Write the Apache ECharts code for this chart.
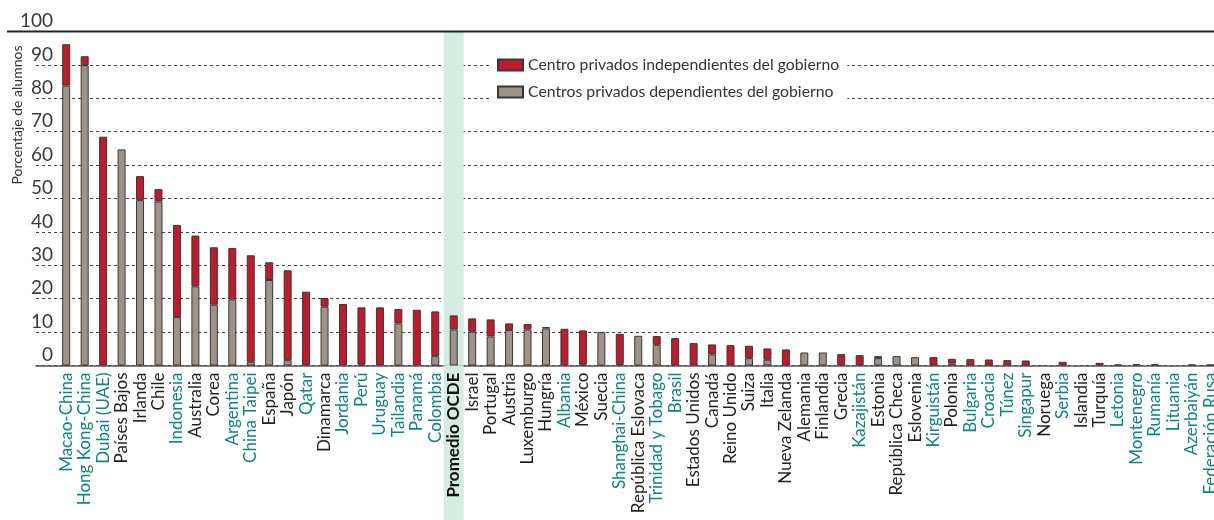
<!DOCTYPE html>
<html>
<head>
<meta charset="utf-8">
<script src="https://cdn.jsdelivr.net/npm/echarts@6/dist/echarts.min.js"></script>
<style>
  html, body { margin: 0; padding: 0; background: #fff; }
  #chart { width: 1214px; height: 520px; }
</style>
</head>
<body>
<div id="chart"></div>
<script>
// ---- DATA ----
const categories = [
  'Macao-China', 'Hong Kong-China', 'Dubai (UAE)', 'Países Bajos', 'Irlanda', 'Chile',
  'Indonesia', 'Australia', 'Corea', 'Argentina', 'China Taipei', 'España', 'Japón',
  'Qatar', 'Dinamarca', 'Jordania', 'Perú', 'Uruguay', 'Tailandia', 'Panamá', 'Colombia',
  'Promedio OCDE', 'Israel', 'Portugal', 'Austria', 'Luxemburgo', 'Hungría', 'Albania',
  'México', 'Suecia', 'Shanghai-China', 'República Eslovaca', 'Trinidad y Tobago', 'Brasil',
  'Estados Unidos', 'Canadá', 'Reino Unido', 'Suiza', 'Italia', 'Nueva Zelanda', 'Alemania',
  'Finlandia', 'Grecia', 'Kazajistán', 'Estonia', 'República Checa', 'Eslovenia',
  'Kirguistán', 'Polonia', 'Bulgaria', 'Croacia', 'Túnez', 'Singapur', 'Noruega', 'Serbia',
  'Islandia', 'Turquía', 'Letonia', 'Montenegro', 'Rumanía', 'Lituania', 'Azerbaiyán',
  'Federación Rusa'
];

// Centros privados dependientes del gobierno (gray, bottom)
const dependientes = [
  83.8, 89.9, 0, 64.7, 49.5, 49.1,
  14.5, 23.7, 18.2, 19.8, 1.1, 25.6, 1.6,
  0, 17.6, 0, 0.3, 0, 12.6, 0, 2.8,
  10.8, 10.1, 8.7, 10.6, 10.8, 11.1, 0,
  0.3, 10.0, 0.5, 8.9, 6.2, 0,
  0, 3.3, 0, 2.2, 1.7, 0, 3.9,
  3.9, 0, 0, 2.2, 2.8, 2.5,
  0, 0.6, 0, 0, 0, 0, 0, 0,
  0, 0, 0, 0, 0, 0, 0,
  0
];

// Centro privados independientes del gobierno (red, top)
const independientes = [
  12.4, 2.7, 68.5, 0, 7.2, 3.7,
  27.6, 15.2, 17.2, 15.4, 31.9, 5.3, 26.9,
  22.1, 2.6, 18.4, 17.1, 17.4, 4.3, 16.7, 13.4,
  4.2, 4.0, 5.1, 2.0, 1.6, 0.4, 11.0,
  10.2, 0, 9.0, 0, 2.6, 8.2,
  6.7, 3.0, 6.1, 3.7, 3.4, 4.8, 0,
  0, 3.4, 3.1, 0.6, 0, 0,
  2.5, 1.4, 1.9, 1.8, 1.6, 1.5, 0, 1.1,
  0, 0.8, 0.3, 0.4, 0.4, 0, 0.3,
  0.3
];

// Países/economías asociados (labels in teal)
const partners = [
  'Macao-China', 'Hong Kong-China', 'Dubai (UAE)', 'Indonesia', 'Argentina', 'China Taipei',
  'Qatar', 'Jordania', 'Perú', 'Uruguay', 'Tailandia', 'Panamá', 'Colombia', 'Albania',
  'Shanghai-China', 'Trinidad y Tobago', 'Brasil', 'Kazajistán', 'Kirguistán', 'Bulgaria',
  'Croacia', 'Túnez', 'Singapur', 'Serbia', 'Letonia', 'Montenegro', 'Rumanía', 'Lituania',
  'Azerbaiyán', 'Federación Rusa'
];

const highlight = 'Promedio OCDE';
const yTicks = { min: 0, max: 100, interval: 10 };
const seriesNames = ['Centro privados independientes del gobierno', 'Centros privados dependientes del gobierno'];
const yAxisTitle = 'Porcentaje de alumnos';

// ---- LAYOUT ----
const PLOT_TOP = 31.5, PLOT_ZERO = 365.5, H = 520;
const pxPerUnit = (PLOT_ZERO - PLOT_TOP) / (yTicks.max - yTicks.min);
const belowMin = -(H - PLOT_ZERO) / pxPerUnit;

const RED = '#BE1B2C', GRAY = '#9E9389', BORDER = '#3a3636', TEAL = '#0E8580', DARK = '#231F20';
const FONT = 'Lato';

const chart = echarts.init(document.getElementById('chart'), null, { renderer: 'canvas' });

const option = {
  animation: false,
  backgroundColor: '#fff',
  textStyle: { fontFamily: FONT },
  grid: [
    { left: 36, right: 0, top: PLOT_TOP, height: PLOT_ZERO - PLOT_TOP, containLabel: false, outerBoundsMode: 'none' },
    { left: 57, width: 1162.5, top: PLOT_TOP, bottom: 0, containLabel: false, outerBoundsMode: 'none' }
  ],
  xAxis: [
    { gridIndex: 0, type: 'value', min: 0, max: 1, axisLabel: { show: false }, axisTick: { show: false },
      splitLine: { show: false }, axisLine: { show: true, onZero: false, lineStyle: { color: '#555', width: 1.5 } } },
    { gridIndex: 1, type: 'category', data: categories, position: 'bottom',
      offset: -(H - PLOT_ZERO),
      axisLine: { show: false, onZero: false },
      axisTick: { show: false },
      axisLabel: {
        interval: 0, rotate: 90, margin: 7, fontSize: 17, fontFamily: FONT,
        color: (v) => partners.includes(v) ? TEAL : DARK,
        formatter: (v) => v === highlight ? '{b|' + v + '}' : v,
        rich: { b: { fontWeight: 'bold', fontSize: 17, color: '#111', fontFamily: FONT } }
      }
    },
    { gridIndex: 1, type: 'category', data: categories, show: false, axisLine: { onZero: false } }
  ],
  yAxis: [
    { gridIndex: 0, type: 'value', min: yTicks.min, max: yTicks.max, interval: yTicks.interval,
      axisLine: { show: false }, axisTick: { show: false },
      axisLabel: { margin: -17, fontSize: 19, color: '#3a3a3a', verticalAlign: 'bottom', padding: [0, 0, 1, 0], fontFamily: FONT },
      splitLine: { show: true, lineStyle: { type: [3, 3], color: '#444', width: 1 } }
    },
    { gridIndex: 1, type: 'value', min: belowMin, max: yTicks.max, show: false, splitLine: { show: false } }
  ],
  legend: {
    left: 489, top: 51, orient: 'vertical',
    data: seriesNames,
    itemWidth: 25, itemHeight: 11, itemGap: 11,
    backgroundColor: '#fff', padding: [6, 8],
    icon: 'rect',
    textStyle: { fontSize: 15.8, color: '#333', fontFamily: FONT }
  },
  graphic: [
    { type: 'line', shape: { x1: 7, y1: PLOT_TOP, x2: 1214, y2: PLOT_TOP }, style: { stroke: '#222', lineWidth: 2 }, z: 10 },
    { type: 'text', x: 17, y: 115, rotation: Math.PI / 2,
      style: { text: yAxisTitle, fontSize: 14, fontFamily: FONT, fill: '#333', align: 'center', verticalAlign: 'middle' } }
  ],
  series: [
    { type: 'bar', name: 'bg+', xAxisIndex: 2, yAxisIndex: 1, stack: 'bg', barWidth: 20, silent: true,
      itemStyle: { color: '#D5ECE2' }, z: 0,
      data: categories.map(c => c === highlight ? yTicks.max : null) },
    { type: 'bar', name: 'bg-', xAxisIndex: 2, yAxisIndex: 1, stack: 'bg', barWidth: 20, silent: true,
      itemStyle: { color: '#D5ECE2' }, z: 0,
      data: categories.map(c => c === highlight ? belowMin : null) },
    { type: 'bar', name: seriesNames[1], xAxisIndex: 1, yAxisIndex: 1, stack: 'total', barWidth: 8,
      itemStyle: { color: GRAY, borderColor: BORDER, borderWidth: 1 },
      data: dependientes.map(v => v > 0 ? v : null) },
    { type: 'bar', name: seriesNames[0], xAxisIndex: 1, yAxisIndex: 1, stack: 'total', barWidth: 8,
      itemStyle: { color: RED, borderColor: BORDER, borderWidth: 1 },
      data: independientes.map(v => v > 0 ? v : null) }
  ]
};

chart.setOption(option);
</script>
</body>
</html>
